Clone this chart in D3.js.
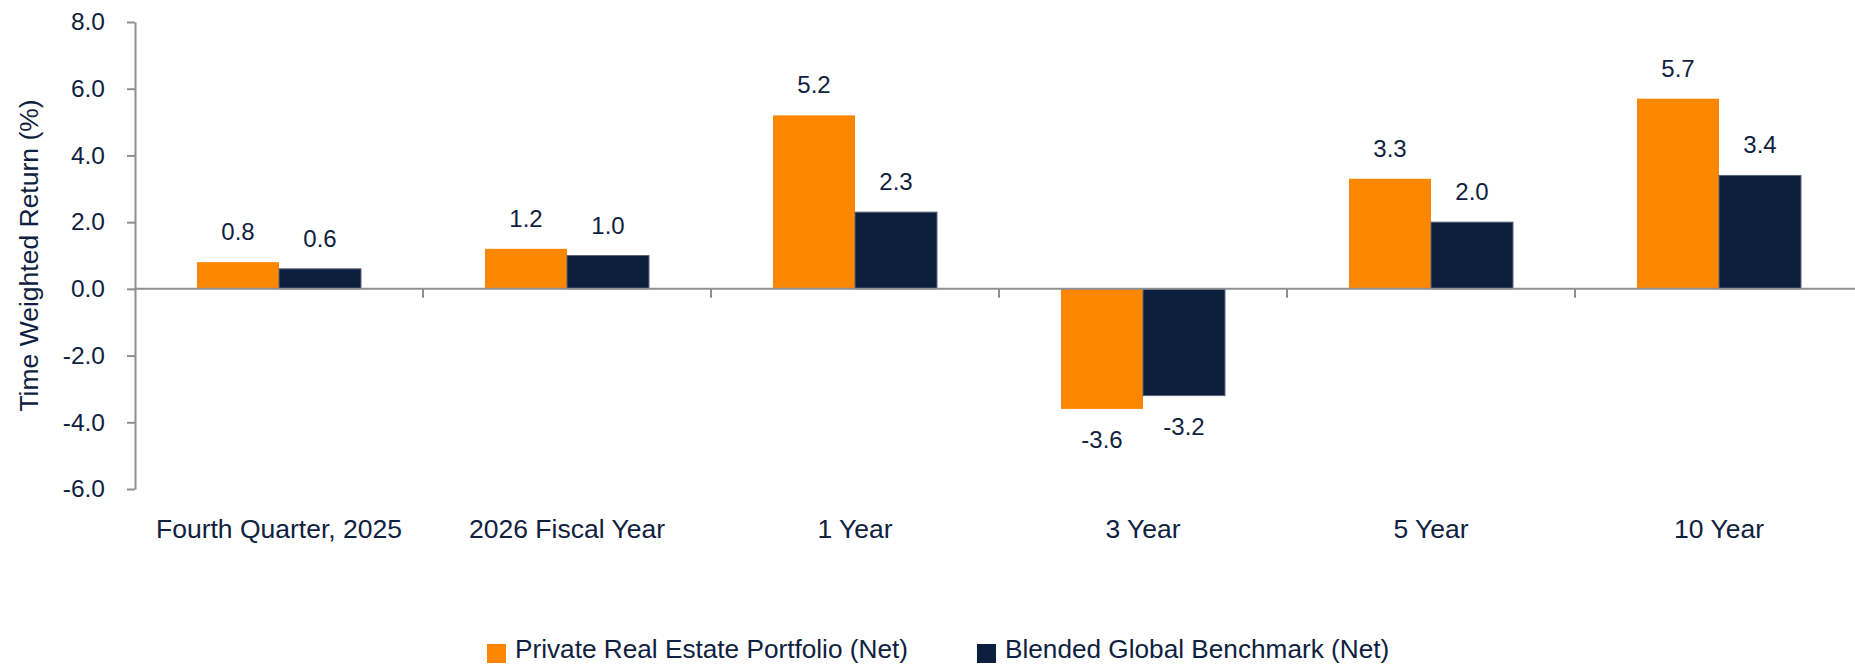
<!DOCTYPE html>
<html>
<head>
<meta charset="utf-8">
<script src="https://cdn.jsdelivr.net/npm/d3@7"></script>
<style>
  body { margin: 0; background: #fff; }
  text { font-family: "Liberation Sans", Arial, sans-serif; fill: #0f2140; }
</style>
</head>
<body>
<div id="chart"></div>
<script>
const categories = ["Fourth Quarter, 2025", "2026 Fiscal Year", "1 Year", "3 Year", "5 Year", "10 Year"];
const seriesNames = ["Private Real Estate Portfolio (Net)", "Blended Global Benchmark (Net)"];
const portfolio = [0.8, 1.2, 5.2, -3.6, 3.3, 5.7];
const benchmark = [0.6, 1.0, 2.3, -3.2, 2.0, 3.4];
const yTicks = [-6, -4, -2, 0, 2, 4, 6, 8];
const colors = ["#fe8700", "#0c1f3c"];

let width = 1855;
let height = 665;
let axisColor = "#8e8e93";

let svg = d3.select("#chart").append("svg")
  .attr("width", width)
  .attr("height", height);

let y = d3.scaleLinear().domain([-6, 8]).range([489, 22]);
let x0 = d3.scaleBand().domain(categories).range([135, 1863]).padding(0);
let bw = x0.bandwidth();
let x1 = d3.scaleBand().domain(seriesNames).range([bw * 0.2153, bw * 0.7847]);

let series = [portfolio, benchmark];
let data = [];
categories.forEach((c, i) => {
  seriesNames.forEach((s, j) => {
    data.push({cat: c, series: s, idx: j, value: series[j][i]});
  });
});

// bars
svg.append("g").selectAll("rect")
  .data(data)
  .enter()
  .append("rect")
  .attr("x", d => x0(d.cat) + x1(d.series))
  .attr("width", x1.bandwidth())
  .attr("y", d => y(Math.max(0, d.value)))
  .attr("height", d => Math.abs(y(d.value) - y(0)))
  .attr("fill", d => colors[d.idx])
  .attr("stroke", d => d.idx == 1 ? "#5d6679" : "none")
  .attr("stroke-width", 1);

// y axis
let yAxis = svg.append("g")
  .attr("transform", "translate(135,0)")
  .call(d3.axisLeft(y).tickValues(yTicks).tickFormat(d => d.toFixed(1))
    .tickSize(8).tickSizeOuter(0).tickPadding(22));
yAxis.select(".domain").attr("stroke", axisColor).attr("stroke-width", 2);
yAxis.selectAll(".tick line").attr("stroke", axisColor).attr("stroke-width", 2);
yAxis.selectAll(".tick text")
  .attr("font-size", 24.5)
  .style("font-family", "'Liberation Sans', Arial, sans-serif")
  .attr("fill", "#0f2140");

// zero line with category separators
let zero = svg.append("g");
zero.append("line")
  .attr("x1", 135).attr("x2", width)
  .attr("y1", y(0)).attr("y2", y(0))
  .attr("stroke", axisColor).attr("stroke-width", 2);
zero.selectAll(".sep")
  .data(categories.slice(1))
  .enter()
  .append("line")
  .attr("x1", d => x0(d)).attr("x2", d => x0(d))
  .attr("y1", y(0)).attr("y2", y(0) + 9)
  .attr("stroke", axisColor).attr("stroke-width", 2);

// category labels
svg.append("g").selectAll("text")
  .data(categories)
  .enter()
  .append("text")
  .attr("x", d => x0(d) + bw / 2)
  .attr("y", y(-6) + 49)
  .attr("text-anchor", "middle")
  .attr("font-size", 26.5)
  .text(d => d);

// value labels
svg.append("g").selectAll("text")
  .data(data)
  .enter()
  .append("text")
  .attr("x", d => x0(d.cat) + x1(d.series) + x1.bandwidth() / 2)
  .attr("y", d => d.value >= 0 ? y(d.value) - 22 : y(d.value) + 39)
  .attr("text-anchor", "middle")
  .attr("font-size", 24)
  .text(d => d.value.toFixed(1));

// y axis title
svg.append("text")
  .attr("transform", "translate(38," + (y(-6) + y(8)) / 2 + ") rotate(-90)")
  .attr("text-anchor", "middle")
  .attr("font-size", 26.5)
  .text("Time Weighted Return (%)");

// legend
let legend = svg.append("g");
let lx = 487;
seriesNames.forEach((s, j) => {
  legend.append("rect")
    .attr("x", lx).attr("y", 644)
    .attr("width", 19).attr("height", 19)
    .attr("fill", colors[j]);
  let t = legend.append("text")
    .attr("x", lx + 28).attr("y", 658)
    .attr("font-size", 26.2)
    .text(s);
  lx = lx + 28 + t.node().getComputedTextLength() + 69;
});
</script>
</body>
</html>
